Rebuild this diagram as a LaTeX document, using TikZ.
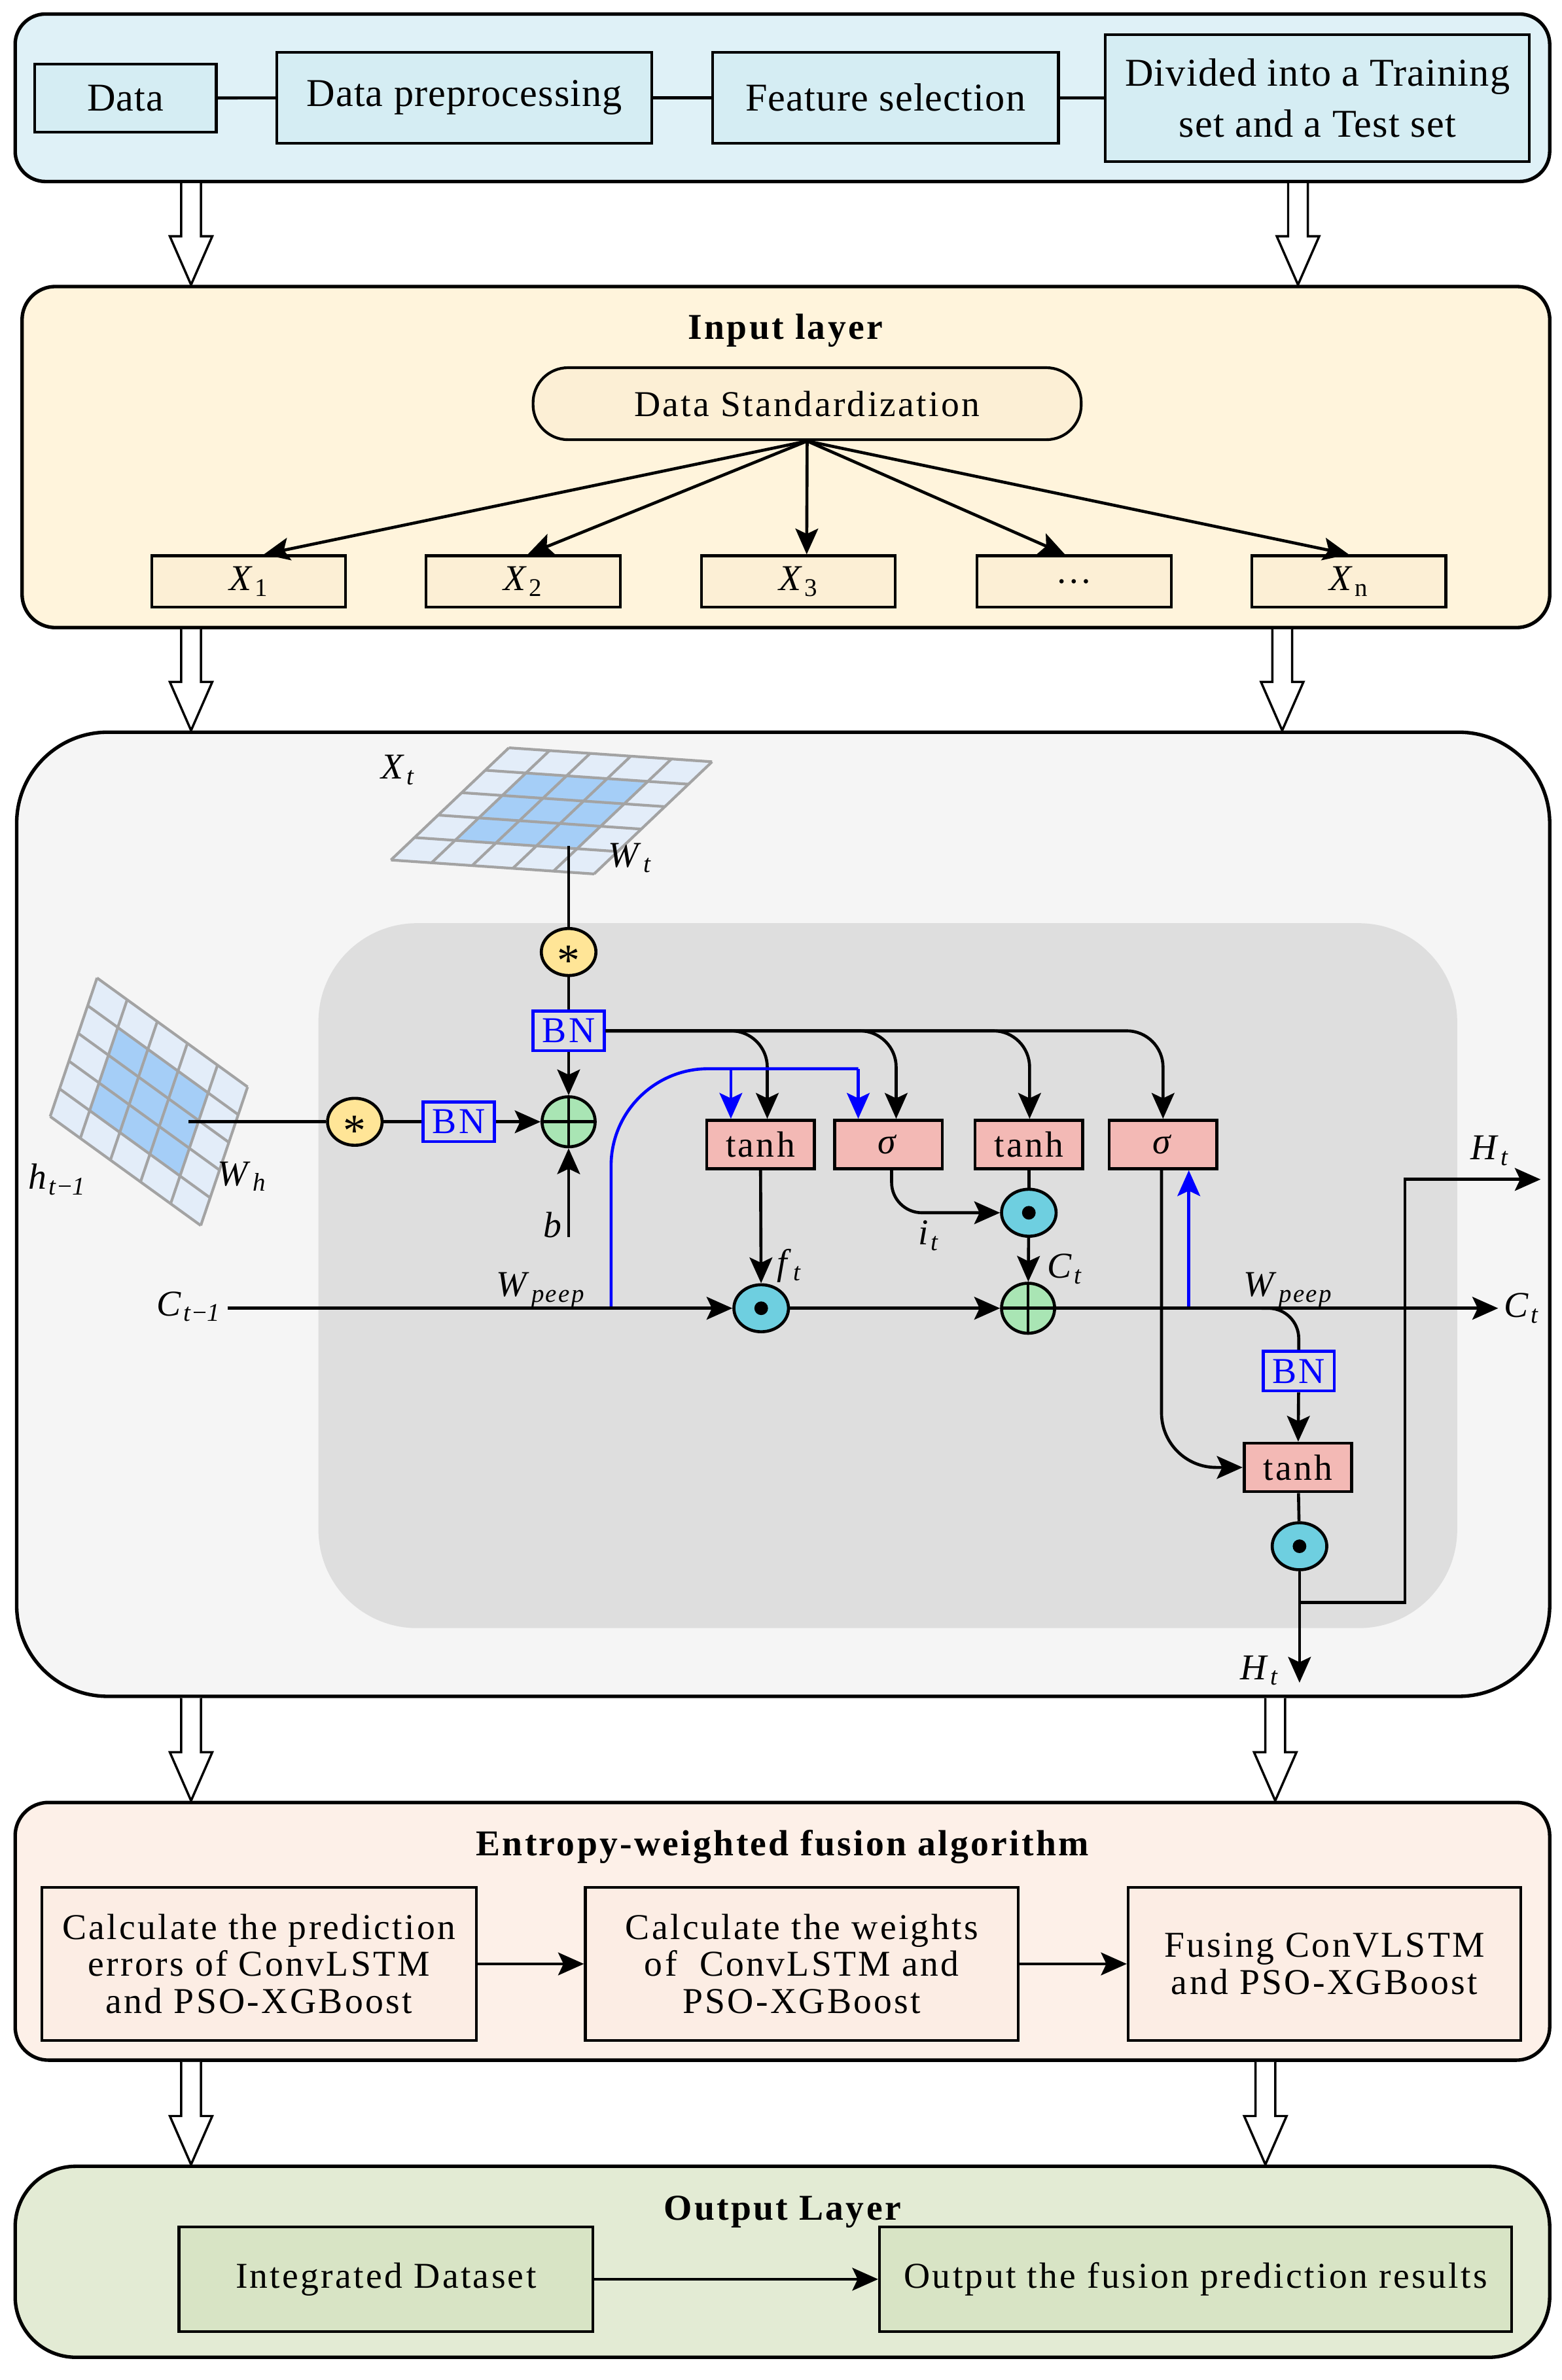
\documentclass[tikz,border=0pt]{standalone}
\usepackage{fontspec}
\setmainfont{Liberation Serif}[LetterSpace=6]
\newfontfamily\topfont{Liberation Serif}[LetterSpace=2]
\usetikzlibrary{calc,shapes.geometric,arrows.meta}

\definecolor{bluebg}{HTML}{DFF1F7}
\definecolor{bluebox}{HTML}{D5EDF3}
\definecolor{yellowbg}{HTML}{FFF4DC}
\definecolor{yellowbox}{HTML}{FCEFD5}
\definecolor{graybg}{HTML}{F5F5F5}
\definecolor{cellbg}{HTML}{DEDEDE}
\definecolor{peachbg}{HTML}{FDF0E8}
\definecolor{peachbox}{HTML}{FCEDE4}
\definecolor{greenbg}{HTML}{E3EBD4}
\definecolor{greenbox}{HTML}{D8E4C5}
\definecolor{gatepink}{HTML}{F3B9B5}
\definecolor{dotcyan}{HTML}{6ECFE0}
\definecolor{plusgreen}{HTML}{A9E5B4}
\definecolor{staryellow}{HTML}{FFE597}
\definecolor{bnblue}{HTML}{0000FF}
\definecolor{gridlight}{HTML}{E3EDF9}
\definecolor{gridblue}{HTML}{A5CEF7}
\definecolor{gridline}{HTML}{A3A3A3}

\newcommand{\vsub}[2]{\textit{#1}\textsubscript{\textit{#2}}}
% hollow arrow between two stages: #1 start, #2 tip
\newcommand{\hollowarrow}[2]{%
  \draw[line width=1.5pt, fill=white] ($(#1)+(-6.5,0)$) -- ($(#2)+(-6.5,-32)$)
    -- ($(#2)+(-14,-32)$) -- (#2) -- ($(#2)+(14,-32)$) -- ($(#2)+(6.5,-32)$)
    -- ($(#1)+(6.5,0)$);}
% 5x5 feature map with 3x3 kernel highlighted
\newcommand{\featuremap}[3]{%
  \begin{scope}[shift={#1}, x={#2}, y={#3}]
    \foreach \i in {0,...,4}
      \foreach \j in {0,...,4}
        \fill[gridlight] (\i,\j) -- ++(1,0) -- ++(0,1) -- ++(-1,0) -- cycle;
    \foreach \i in {1,...,3}
      \foreach \j in {1,...,3}
        \fill[gridblue] (\i,\j) -- ++(1,0) -- ++(0,1) -- ++(-1,0) -- cycle;
    \foreach \k in {0,...,5} {
      \draw[gridline, line width=1.8pt] (\k,0) -- (\k,5);
      \draw[gridline, line width=1.8pt] (0,\k) -- (5,\k);
    }
  \end{scope}}

\tikzset{
  >={Stealth[length=17pt,width=15pt,inset=3.5pt]},
  stage/.style={draw, line width=2.3pt, inner sep=0pt},
  procbox/.style={draw, line width=1.8pt, inner sep=2pt, align=center},
  title/.style={font=\fontsize{24}{24.5}\selectfont\bfseries},
  link/.style={line width=2pt},
  flow/.style={line width=2pt, ->},
  peep/.style={draw=bnblue, line width=2pt},
  gate/.style={draw, line width=2pt, fill=gatepink, minimum width=71pt,
    minimum height=32pt, inner sep=0pt},
  bnbox/.style={draw=bnblue, text=bnblue, line width=2pt, minimum width=47pt,
    minimum height=26pt, inner sep=0pt},
  opdot/.style={ellipse, draw, line width=2pt, fill=dotcyan, minimum width=36pt,
    minimum height=31pt, inner sep=0pt,
    path picture={\fill[black] (path picture bounding box.center) circle (4.5pt);}},
  opplus/.style={ellipse, draw, line width=2pt, fill=plusgreen, minimum width=35pt,
    minimum height=33pt, inner sep=0pt,
    path picture={\draw[line width=2pt] (path picture bounding box.north) -- (path picture bounding box.south)
      (path picture bounding box.west) -- (path picture bounding box.east);}},
  opstar/.style={ellipse, draw, line width=2pt, fill=staryellow, minimum width=36pt,
    minimum height=31pt, inner sep=0pt,
    path picture={\node[font=\fontsize{30}{30}\selectfont] at ([yshift=-6pt]path picture bounding box.center) {*};}},
}

\begin{document}
\begin{tikzpicture}[x=1pt, y=-1pt, font=\fontsize{24}{24.5}\selectfont]
  \useasboundingbox (0,0) rectangle (1030,1570);

  % stages
  \node[stage, fill=bluebg, rounded corners=20pt, minimum width=1012pt, minimum height=110.5pt] (s1) at (516,64.5) {};
  \node[stage, fill=yellowbg, rounded corners=22pt, minimum width=1007.5pt, minimum height=225pt] (s2) at (518.3,301.5) {};
  \node[stage, fill=graybg, rounded corners=60pt, minimum width=1011pt, minimum height=636pt] (s3) at (516.5,801) {};
  \node[stage, fill=peachbg, rounded corners=22pt, minimum width=1012pt, minimum height=170pt] (s4) at (516,1274) {};
  \node[stage, fill=greenbg, rounded corners=40pt, minimum width=1012pt, minimum height=126pt] (s5) at (516,1492) {};

  % hollow arrows between stages
  \coordinate (hx1) at (126,0);
  \coordinate (hx2) at (856,0);
  \coordinate (hx3) at (845.6,0);
  \coordinate (hx4) at (841,0);
  \coordinate (hx5) at (834.5,0);
  \hollowarrow{s1.south -| hx1}{s2.north -| hx1}
  \hollowarrow{s1.south -| hx2}{s2.north -| hx2}
  \hollowarrow{s2.south -| hx1}{s3.north -| hx1}
  \hollowarrow{s2.south -| hx3}{s3.north -| hx3}
  \hollowarrow{s3.south -| hx1}{s4.north -| hx1}
  \hollowarrow{s3.south -| hx4}{s4.north -| hx4}
  \hollowarrow{s4.south -| hx1}{s5.north -| hx1}
  \hollowarrow{s4.south -| hx5}{s5.north -| hx5}

  % data preparation
  \begin{scope}[every node/.append style={font=\topfont\fontsize{26}{33.6}\selectfont}]
    \node[procbox, fill=bluebox, minimum width=119.6pt, minimum height=44.7pt] (data) at (82.8,64.7) {Data};
    \node[procbox, fill=bluebox, minimum width=247.4pt, minimum height=60pt] (prep) at (306.3,64.4) {Data preprocessing};
    \node[procbox, fill=bluebox, minimum width=228pt, minimum height=60pt] (feat) at (584,64.4) {Feature selection};
    \node[procbox, fill=bluebox, minimum width=279.5pt, minimum height=83.5pt] (split) at (868.8,64.8) {Divided into a Training\\set and a Test set};
  \end{scope}
  \draw[link] (data) -- (prep);
  \draw[link] (prep) -- (feat);
  \draw[link] (feat) -- (split);

  % input layer
  \node[title] (t2) at (518,218) {Input layer};
  \node[procbox, fill=yellowbox, rounded corners=23pt, minimum width=361.5pt, minimum height=47.5pt] (std) at (532.3,266.3) {Data Standardization};
  \foreach \n/\xc/\txt in {1/164/{\textit{X}\textsubscript{1}}, 2/345/{\textit{X}\textsubscript{2}},
      3/526.5/{\textit{X}\textsubscript{3}}, 4/708.3/{…}, 5/889.5/{\textit{X}\textsubscript{n}}}
    \node[procbox, fill=yellowbox, minimum width=128pt, minimum height=34pt] (x\n) at (\xc,383.6) {\txt};
  \foreach \n/\dx in {1/10, 2/3, 3/5.5, 4/-6, 5/0}
    \draw[flow] (std.south) -- ([xshift=\dx pt]x\n.north);

  % ConvLSTM cell
  \fill[cellbg, rounded corners=65pt] (210,609) rectangle (961,1074);
  \featuremap{(257.8,567.3)}{(26.8pt,-1.84pt)}{(15.56pt,14.8pt)}
  \featuremap{(33.1,736.5)}{(19.86pt,-14.38pt)}{(6.18pt,18.28pt)}
  \coordinate (xtc) at (375,558);
  \coordinate (htc) at (124.5,740);
  \coordinate (bin) at (375,816);
  \coordinate (cin) at (150,863);
  \coordinate (wp1) at (403,863);
  \coordinate (pbar) at (0,705);
  \coordinate (wp2) at (784,863);
  \coordinate (cbr) at (832,863);
  \coordinate (cout) at (988,863);
  \coordinate (hsp) at (857,1057);
  \coordinate (hup) at (926.5,778);
  \coordinate (hout) at (1016,778);
  \coordinate (hdn) at (857,1110);

  \node[opstar] (sx) at (375,628) {};
  \node[bnbox] (bnx) at (375,680) {BN};
  \node[opplus] (px) at (375,740) {};
  \node[opstar] (sh) at (234,740) {};
  \node[bnbox] (bnh) at (302.5,740) {BN};
  \node[gate] (g1) at (501.5,755) {tanh};
  \node[gate] (g2) at (586,755) {\textit{σ}};
  \node[gate] (g3) at (678.5,755) {tanh};
  \node[gate] (g4) at (767,755) {\textit{σ}};
  \node[opdot] (mf) at (502,863) {};
  \node[opdot] (mi) at (678.5,800) {};
  \node[opplus] (pc) at (678,863) {};
  \node[bnbox] (bnc) at (856.5,904.5) {BN};
  \node[gate] (g5) at (856,968) {tanh};
  \node[opdot] (mh) at (857,1020) {};

  \draw[link] (xtc) -- (sx);
  \draw[link] (sx) -- (bnx);
  \draw[flow] (bnx) -- (px);
  \draw[flow] (bin) -- (px);
  \draw[link] (htc) -- (sh);
  \draw[link] (sh) -- (bnh);
  \draw[flow] (bnh) -- (px);
  \foreach \g/\dx in {g1/4.5, g2/5, g3/0.5, g4/0}
    \draw[flow, rounded corners=24pt] (bnx.east) -| ([xshift=\dx pt]\g.north);

  % peephole connections
  \coordinate (g1b) at ([xshift=-19.5pt]g1.north);
  \coordinate (g2b) at ([xshift=-20pt]g2.north);
  \draw[peep, rounded corners=64pt] (wp1) |- (g2b |- pbar);
  \draw[peep, ->] (g1b |- pbar) -- (g1b);
  \draw[peep, ->] (g2b |- pbar) -- (g2b);
  \draw[peep, ->] (wp2) -- (wp2 |- g4.south);

  \draw[flow] (g1) -- (mf);
  \draw[flow, rounded corners=20pt] ([xshift=2pt]g2.south) |- (mi);
  \draw[link] (g3) -- (mi);
  \draw[flow] (mi) -- (pc);
  \draw[flow] (cin) -- (mf);
  \draw[flow] (mf) -- (pc);
  \draw[flow] (pc) -- (cout);
  \draw[link, rounded corners=20pt] (cbr) -| (bnc);
  \draw[flow] (bnc) -- (g5);
  \draw[flow, rounded corners=36pt] ([xshift=-1pt]g4.south) |- (g5);
  \draw[link] (g5) -- (mh);
  \draw[flow] (mh) -- (hdn);
  \draw[flow] (hsp) -| (hup) -- (hout);

  % labels
  \node (lxt) at (263,508) {\vsub{X}{t}};
  \node (lwt) at (416,566) {\vsub{W}{t}};
  \node (lht) at (38,778) {\textit{h}\textsubscript{\textit{t}−\textit{1}}};
  \node (lwh) at (160,776) {\vsub{W}{h}};
  \node (lb) at (365,808) {\textit{b}};
  \node (lwp1) at (357,851) {\vsub{W}{peep}};
  \node (lct1) at (125,862) {\textit{C}\textsubscript{\textit{t}−\textit{1}}};
  \node (lft) at (521,835) {\vsub{f}{t}};
  \node (lit) at (613,815) {\vsub{i}{t}};
  \node (lct) at (703,837) {\vsub{C}{t}};
  \node (lwp2) at (850,851) {\vsub{W}{peep}};
  \node (lcout) at (1004,863) {\vsub{C}{t}};
  \node (lhout) at (983,759) {\vsub{H}{t}};
  \node (lhdn) at (831,1102) {\vsub{H}{t}};

  % fusion
  \node[title] (t4) at (516,1218.5) {Entropy-weighted fusion algorithm};
  \node[procbox, fill=peachbox, minimum width=286.4pt, minimum height=101pt] (err) at (170.8,1295.5) {Calculate the prediction\\errors of ConvLSTM\\and PSO-XGBoost};
  \node[procbox, fill=peachbox, minimum width=285.5pt, minimum height=101pt] (wts) at (528.75,1295.5) {Calculate the weights\\of\ \ ConvLSTM and\\PSO-XGBoost};
  \node[procbox, fill=peachbox, minimum width=259pt, minimum height=101pt] (fus) at (873.5,1295.5) {Fusing ConVLSTM\\and PSO-XGBoost};
  \draw[flow] (err) -- (wts);
  \draw[flow] (wts) -- (fus);

  % output
  \node[title] (t5) at (516,1459) {Output Layer};
  \node[procbox, fill=greenbox, minimum width=273pt, minimum height=69pt] (integ) at (254.5,1503.5) {Integrated Dataset};
  \node[procbox, fill=greenbox, minimum width=417pt, minimum height=69pt] (outp) at (788.5,1503.5) {Output the fusion prediction results};
  \draw[flow] (integ) -- (outp);
\end{tikzpicture}
\end{document}
